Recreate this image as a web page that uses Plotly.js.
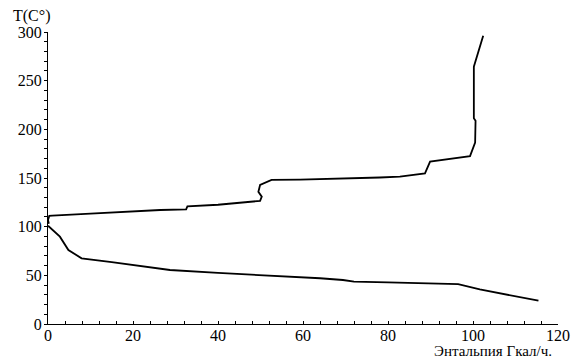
<!DOCTYPE html>
<html>
<head>
<meta charset="utf-8">
<script src="https://cdn.plot.ly/plotly-3.0.1.min.js"></script>
<style>html,body{margin:0;padding:0;background:#fff;}#chart{width:580px;height:362px;}</style>
</head>
<body>
<div id="chart"></div>
<script>
// Upper curve (heated stream)
const upperX = [0.2, 0.0, 0.3, 1, 10, 20, 26.4, 32.5, 32.8, 40, 49.9, 50.3, 49.5, 49.9, 52.6, 59.3, 67, 78.1, 82.8, 88.7, 89.9, 99.3, 100.5, 100.6, 100.2, 100.2, 102.4];
const upperT = [103, 107, 111, 111.3, 113.5, 115.8, 117.1, 117.8, 120.8, 122.5, 126.5, 130.8, 135.9, 142.8, 148, 148.3, 149, 150.5, 151.5, 154.8, 166.8, 172.5, 186.3, 208.9, 211.3, 264.4, 296.2];
// Lower curve (cooled stream)
const lowerX = [0, 1.5, 2.8, 4.8, 7.9, 15, 24, 28.7, 40, 50, 57, 64, 69.4, 72, 80, 92.2, 96.5, 101.6, 108.7, 115.4];
const lowerT = [101, 95, 89.7, 76, 67.5, 63.5, 58.3, 55.5, 52.5, 50.5, 48.5, 47, 45.2, 43.5, 42.8, 41.1, 41, 35.6, 29.8, 23.9];

const xTicks = [0, 20, 40, 60, 80, 100, 120];
const yTicks = [0, 50, 100, 150, 200, 250, 300];
const yTitle = 'T(C°)';
const xTitle = 'Энтальпия Гкал/ч.';

const font = {family: "'Liberation Serif', 'Times New Roman', serif", size: 16, color: '#000'};
const titleFont = {family: "'Liberation Serif', 'Times New Roman', serif", size: 15, color: '#000'};
const lineStyle = {color: '#000', width: 1.8};

const data = [
  {x: upperX, y: upperT, mode: 'lines', line: lineStyle, hoverinfo: 'skip'},
  {x: lowerX, y: lowerT, mode: 'lines', line: lineStyle, hoverinfo: 'skip'}
];

const layout = {
  width: 580, height: 362,
  margin: {l: 48, r: 22, t: 32, b: 38},
  paper_bgcolor: '#fff', plot_bgcolor: '#fff',
  showlegend: false,
  font: font,
  xaxis: {
    range: [0, 120], tickvals: xTicks, ticktext: xTicks.map(String),
    showgrid: false, zeroline: false, showline: true, linecolor: '#000', linewidth: 1,
    ticks: 'inside', ticklen: 3, tickcolor: '#000', tickwidth: 1,
    minor: {dtick: 4, tick0: 0, ticks: 'inside', ticklen: 3, tickcolor: '#000', showgrid: false},
    tickfont: font, ticklabelstandoff: -3, fixedrange: true
  },
  yaxis: {
    range: [0, 300], tickvals: yTicks, ticktext: yTicks.map(String),
    showgrid: false, zeroline: false, showline: true, linecolor: '#000', linewidth: 1,
    ticks: 'outside', ticklen: 3, tickcolor: '#000', tickwidth: 1,
    minor: {dtick: 10, tick0: 0, ticks: 'outside', ticklen: 3, tickcolor: '#000', showgrid: false},
    tickfont: font, ticklabelstandoff: -1, fixedrange: true
  },
  annotations: [
    {text: yTitle, xref: 'paper', yref: 'paper', x: 0, y: 1, xshift: -16, yshift: 16,
     xanchor: 'center', yanchor: 'middle', showarrow: false, font: font},
    {text: xTitle, xref: 'paper', yref: 'paper', x: 1, y: 0, xshift: -4, yshift: -27,
     xanchor: 'right', yanchor: 'middle', showarrow: false, font: titleFont}
  ]
};

Plotly.newPlot('chart', data, layout, {staticPlot: true, displayModeBar: false});
</script>
</body>
</html>
